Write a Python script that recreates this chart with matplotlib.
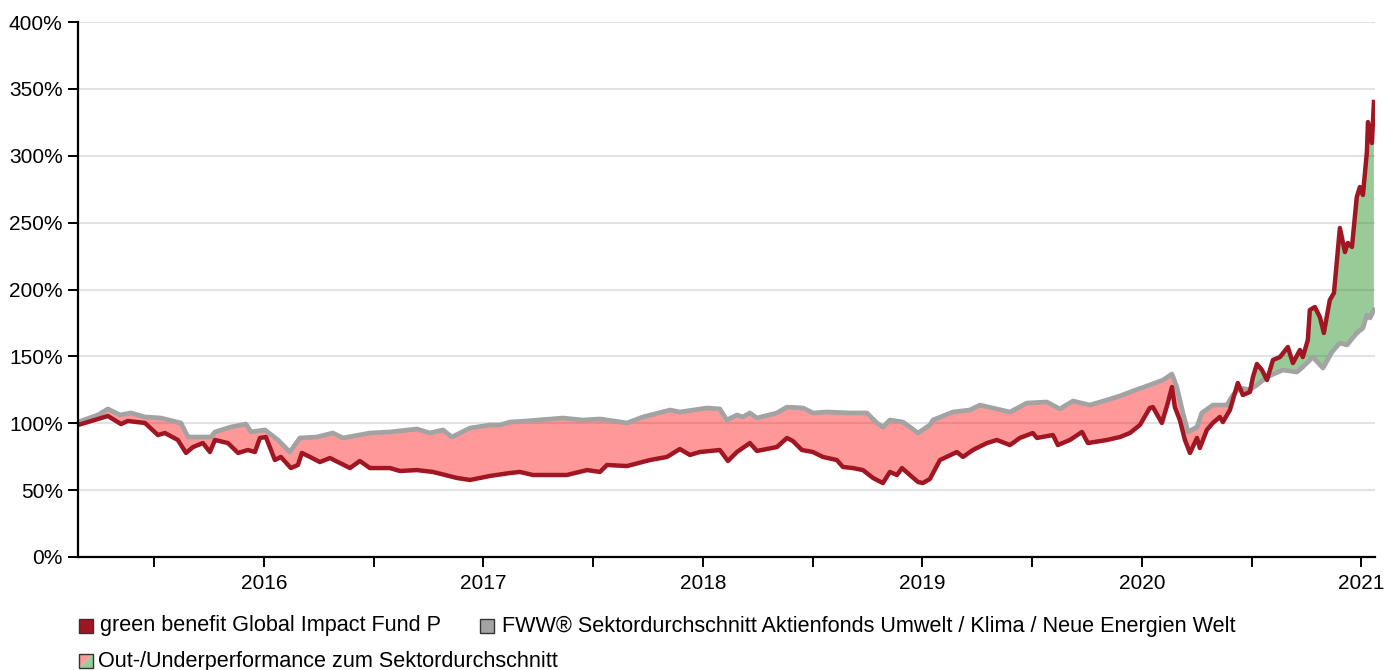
import numpy as np
import matplotlib
matplotlib.use("Agg")
import matplotlib.pyplot as plt
from matplotlib.patches import Rectangle, Polygon

plt.rcParams['font.family'] = ['Liberation Sans', 'DejaVu Sans']

# ---- data (dates as decimal years, values in %) ----
fund_dates = [2015.153, 2015.289, 2015.349, 2015.380, 2015.458, 2015.517, 2015.549, 2015.608, 2015.645, 2015.677,
              2015.722, 2015.754, 2015.777, 2015.836, 2015.882, 2015.927, 2015.959, 2015.982, 2016.009, 2016.050,
              2016.077, 2016.123, 2016.155, 2016.173, 2016.210, 2016.255, 2016.301, 2016.346, 2016.392, 2016.437,
              2016.483, 2016.574, 2016.620, 2016.697, 2016.770, 2016.879, 2016.939, 2017.030, 2017.121, 2017.166,
              2017.226, 2017.380, 2017.472, 2017.531, 2017.563, 2017.654, 2017.759, 2017.836, 2017.895, 2017.941,
              2017.986, 2018.077, 2018.114, 2018.155, 2018.214, 2018.246, 2018.337, 2018.383, 2018.410, 2018.451,
              2018.501, 2018.547, 2018.610, 2018.638, 2018.683, 2018.729, 2018.775, 2018.820, 2018.852, 2018.884,
              2018.907, 2018.943, 2018.980, 2019.002, 2019.034, 2019.080, 2019.157, 2019.185, 2019.230, 2019.294,
              2019.339, 2019.399, 2019.444, 2019.503, 2019.522, 2019.595, 2019.617, 2019.672, 2019.727, 2019.754,
              2019.841, 2019.900, 2019.945, 2019.991, 2020.036, 2020.050, 2020.091, 2020.118, 2020.137, 2020.150,
              2020.173, 2020.196, 2020.219, 2020.251, 2020.264, 2020.296, 2020.323, 2020.355, 2020.369, 2020.401,
              2020.437, 2020.460, 2020.492, 2020.506, 2020.524, 2020.547, 2020.570, 2020.597, 2020.629, 2020.665,
              2020.688, 2020.720, 2020.733, 2020.756, 2020.765, 2020.788, 2020.811, 2020.829, 2020.856, 2020.875,
              2020.902, 2020.925, 2020.938, 2020.957, 2020.979, 2020.993, 2021.007, 2021.025, 2021.030, 2021.048,
              2021.057]
fund_values = [98.7, 105.4, 99.4, 101.7, 100.2, 91.2, 92.7, 87.5, 77.8, 82.2,
               85.2, 78.5, 87.5, 85.2, 77.8, 80.0, 78.5, 89.0, 89.7, 72.5,
               74.8, 66.5, 68.8, 77.8, 74.8, 71.0, 74.0, 70.3, 66.5, 71.8,
               66.5, 66.5, 64.3, 65.0, 63.6, 59.1, 57.6, 60.6, 62.8, 63.6,
               61.3, 61.3, 65.0, 63.6, 68.8, 68.0, 72.5, 74.8, 80.7, 76.3,
               78.5, 80.0, 71.8, 78.5, 85.2, 79.3, 82.2, 89.0, 86.7, 80.0,
               78.5, 74.8, 72.5, 67.3, 66.5, 65.0, 59.1, 55.3, 63.6, 61.3,
               66.5, 61.3, 56.1, 55.3, 58.3, 72.5, 78.5, 74.8, 80.0, 85.2,
               87.5, 83.7, 89.0, 92.7, 89.0, 91.2, 83.7, 87.5, 93.5, 85.2,
               87.5, 89.7, 92.7, 98.7, 111.4, 112.1, 100.2, 115.1, 127.1, 112.1,
               102.4, 87.5, 77.8, 89.0, 81.5, 95.0, 100.2, 104.7, 100.9, 109.9,
               130.1, 121.1, 123.4, 134.6, 144.3, 139.8, 132.3, 147.3, 149.5, 157.0,
               145.0, 154.8, 149.5, 162.2, 184.7, 186.9, 179.4, 167.5, 192.1, 197.4,
               246.0, 228.0, 234.8, 231.8, 269.2, 276.6, 270.7, 302.8, 325.2, 309.5,
               340.2]

sector_dates = [2015.153, 2015.244, 2015.289, 2015.344, 2015.394, 2015.458, 2015.531, 2015.622, 2015.654, 2015.759,
                2015.777, 2015.850, 2015.918, 2015.941, 2016.005, 2016.064, 2016.118, 2016.164, 2016.241, 2016.314,
                2016.360, 2016.483, 2016.574, 2016.697, 2016.756, 2016.816, 2016.856, 2016.939, 2017.030, 2017.075,
                2017.121, 2017.198, 2017.362, 2017.453, 2017.531, 2017.654, 2017.727, 2017.850, 2017.895, 2018.018,
                2018.077, 2018.109, 2018.155, 2018.182, 2018.214, 2018.246, 2018.337, 2018.383, 2018.456, 2018.501,
                2018.565, 2018.670, 2018.747, 2018.793, 2018.820, 2018.852, 2018.911, 2018.943, 2018.980, 2019.034,
                2019.048, 2019.139, 2019.216, 2019.262, 2019.399, 2019.476, 2019.567, 2019.626, 2019.686, 2019.763,
                2019.841, 2019.900, 2019.959, 2020.036, 2020.096, 2020.137, 2020.159, 2020.187, 2020.210, 2020.251,
                2020.273, 2020.323, 2020.387, 2020.415, 2020.446, 2020.492, 2020.524, 2020.570, 2020.642, 2020.706,
                2020.733, 2020.779, 2020.825, 2020.866, 2020.902, 2020.934, 2020.979, 2021.007, 2021.025, 2021.039,
                2021.057]
sector_values = [100.9, 106.2, 110.7, 106.2, 107.7, 104.7, 103.9, 100.2, 89.7, 89.7,
                 93.5, 97.2, 99.4, 93.5, 95.0, 87.5, 78.5, 89.0, 89.7, 92.7,
                 89.0, 92.7, 93.5, 95.7, 92.7, 95.0, 89.7, 96.4, 98.7, 98.7,
                 100.9, 101.7, 103.9, 102.4, 103.2, 100.2, 104.7, 109.9, 108.4, 111.4,
                 110.7, 102.4, 106.2, 104.7, 107.7, 103.9, 107.7, 112.1, 111.4, 107.7,
                 108.4, 107.7, 107.7, 100.2, 97.2, 102.4, 100.9, 97.2, 92.7, 98.7,
                 102.4, 108.4, 109.9, 113.6, 108.4, 115.1, 115.9, 110.7, 116.6, 113.6,
                 117.4, 120.4, 124.1, 128.6, 132.3, 136.8, 127.1, 107.7, 93.5, 97.2,
                 107.7, 113.6, 113.6, 121.1, 126.4, 124.9, 128.6, 134.6, 139.8, 138.3,
                 142.1, 149.5, 141.3, 153.3, 160.0, 158.5, 167.5, 171.2, 180.9, 178.7,
                 184.7]

fund_label = "green benefit Global Impact Fund P"
sector_label = "FWW\u00ae Sektordurchschnitt Aktienfonds Umwelt / Klima / Neue Energien Welt"
perf_label = "Out-/Underperformance zum Sektordurchschnitt"
year_ticks = [2016, 2017, 2018, 2019, 2020, 2021]
y_ticks = [0, 50, 100, 150, 200, 250, 300, 350, 400]

RED = '#a01623'
GRAY = '#a3a3a3'

W, H = 1388, 670
fig = plt.figure(figsize=(W / 100, H / 100), dpi=100)
ax = fig.add_axes([78 / W, 1 - 557 / H, (1375 - 78) / W, (557 - 22) / H])

# fill between using a common date grid
grid = np.union1d(fund_dates, sector_dates)
f = np.interp(grid, fund_dates, fund_values)
s = np.interp(grid, sector_dates, sector_values)
ax.fill_between(grid, f, s, where=f < s, interpolate=True, color='#ff0000', alpha=0.4, lw=0, zorder=2)
ax.fill_between(grid, f, s, where=f >= s, interpolate=True, color='#007f00', alpha=0.4, lw=0, zorder=2)

ax.plot(sector_dates, sector_values, color=GRAY, lw=3.4, zorder=3, solid_joinstyle='round')
ax.plot(fund_dates, fund_values, color=RED, lw=3.2, zorder=4, solid_joinstyle='round')

ax.set_xlim(2015.153, 2021.062)
ax.set_ylim(0, 400)
ax.set_yticks(y_ticks)
ax.set_yticklabels([f"{v}%" for v in y_ticks])
ax.set_xticks(year_ticks)
ax.set_xticklabels([str(y) for y in year_ticks])
ax.set_xticks([y + 0.5 for y in range(2015, 2021)], minor=True)

ax.set_axisbelow(True)
ax.yaxis.grid(True, color='#e3e3e3', lw=1.5)

for sp in ['top', 'right']:
    ax.spines[sp].set_visible(False)
for sp in ['left', 'bottom']:
    ax.spines[sp].set_linewidth(1.6)
    ax.spines[sp].set_color('black')
    ax.spines[sp].set_zorder(5)

ax.tick_params(axis='both', which='major', direction='out', length=7, width=1.4,
               colors='black', labelsize=15, pad=4)
ax.tick_params(axis='x', which='minor', direction='out', length=7, width=1.4, colors='black')
ax.tick_params(axis='x', which='major', pad=5)

# ---- legend (drawn in figure pixel coords) ----
def px(x, y):
    return x / W, 1 - y / H

def square(x0, y0, size, fc):
    r = Rectangle(px(x0, y0 + size), size / W, size / H, transform=fig.transFigure,
                  facecolor=fc, edgecolor='#333333', lw=1.0)
    fig.add_artist(r)

LFS = 15.6
square(79, 619, 14, RED)
fig.text(*px(100, 626), fund_label, fontsize=LFS, va='center', ha='left')
square(480, 619, 14, GRAY)
fig.text(*px(502, 626), sector_label, fontsize=LFS, va='center', ha='left')

x0, y0, sz = 79, 654, 14
tri_r = Polygon([px(x0, y0), px(x0 + sz, y0), px(x0, y0 + sz)], closed=True,
                transform=fig.transFigure, facecolor='#ff9999', edgecolor='none')
tri_g = Polygon([px(x0 + sz, y0), px(x0 + sz, y0 + sz), px(x0, y0 + sz)], closed=True,
                transform=fig.transFigure, facecolor='#99cc99', edgecolor='none')
fig.add_artist(tri_r)
fig.add_artist(tri_g)
fig.add_artist(Rectangle(px(x0, y0 + sz), sz / W, sz / H, transform=fig.transFigure,
                         facecolor='none', edgecolor='#333333', lw=1.0))
fig.text(*px(98, 661), perf_label, fontsize=LFS, va='center', ha='left')

fig.savefig('out.png', dpi=100)
